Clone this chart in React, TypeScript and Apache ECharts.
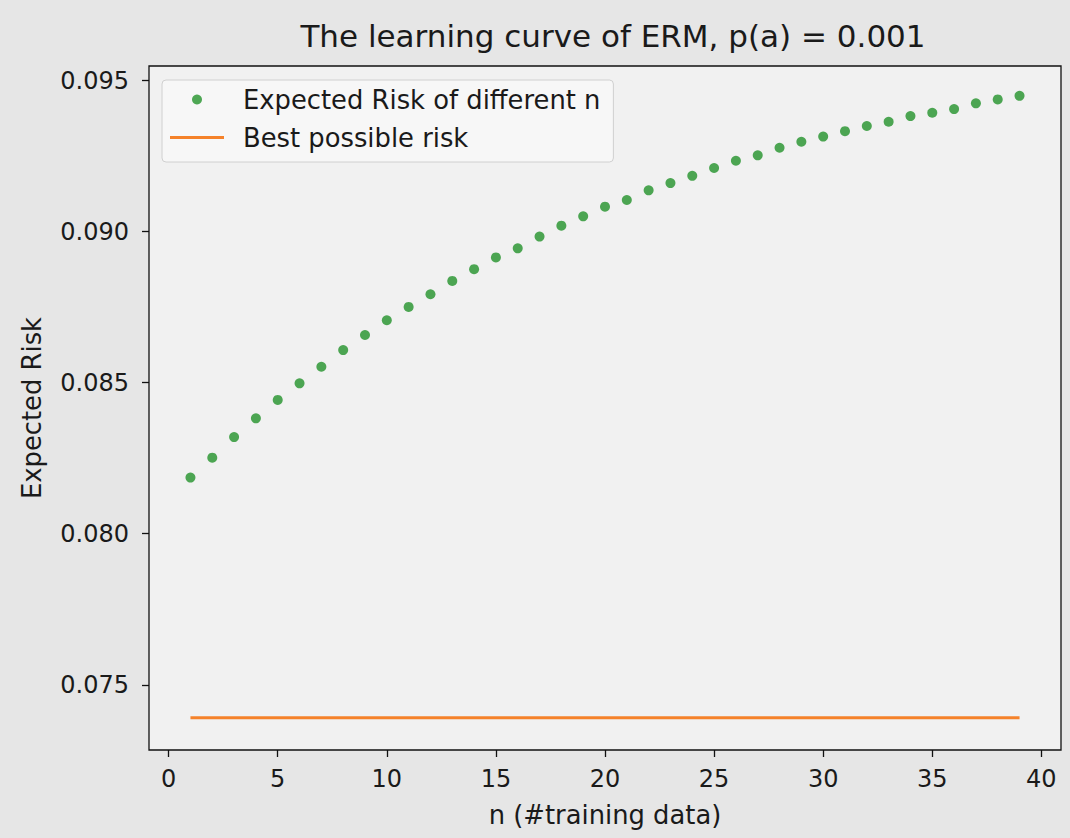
import React, { useEffect, useRef } from "react";
import * as echarts from "echarts";

const nValues = [1, 2, 3, 4, 5, 6, 7, 8, 9, 10, 11, 12, 13, 14, 15, 16, 17, 18, 19, 20, 21, 22, 23, 24, 25, 26, 27, 28, 29, 30, 31, 32, 33, 34, 35, 36, 37, 38, 39];
const expectedRisk = [0.08186, 0.08252, 0.0832, 0.08382, 0.08443, 0.08498, 0.08553, 0.08608, 0.08658, 0.08707, 0.08751, 0.08793, 0.08837, 0.08876, 0.08915, 0.08945, 0.08984, 0.0902, 0.09051, 0.09083, 0.09105, 0.09137, 0.09161, 0.09185, 0.09211, 0.09235, 0.09253, 0.09278, 0.09298, 0.09315, 0.09333, 0.0935, 0.09364, 0.09383, 0.09394, 0.09406, 0.09425, 0.09438, 0.0945];
const bestRiskN = [1, 39];
const bestRisk = [0.07391, 0.07391];
const xTicks = [0, 5, 10, 15, 20, 25, 30, 35, 40];
const yTicks = [0.075, 0.08, 0.085, 0.09, 0.095];

const FONT = "DejaVu Sans";

export default function App() {
  const ref = useRef<HTMLDivElement>(null);
  useEffect(() => {
    if (!ref.current) return;
    const chart = echarts.init(ref.current, undefined, { renderer: "svg" });
    chart.setOption({
      animation: false,
      backgroundColor: "#e6e6e6",
      textStyle: { fontFamily: FONT },
      title: {
        text: "The learning curve of ERM, p(a) = 0.001",
        left: 608,
        top: 15,
        textAlign: "center",
        textStyle: { fontFamily: FONT, fontSize: 31, fontWeight: "normal", color: "#1a1a1a" },
      },
      grid: {
        left: 149,
        top: 66,
        right: 9,
        bottom: 88,
        show: true,
        backgroundColor: "#f1f1f1",
        borderColor: "#111",
        borderWidth: 1.3,
      },
      legend: {
        orient: "vertical",
        left: 162,
        top: 80,
        padding: [5, 13, 10, 8],
        itemWidth: 54,
        itemHeight: 10,
        itemGap: 9,
        backgroundColor: "#f7f7f7",
        borderColor: "#d0d0d0",
        borderWidth: 1,
        borderRadius: 4,
        textStyle: { fontFamily: FONT, fontSize: 25.8, color: "#1a1a1a", lineHeight: 29, padding: [0, 0, 0, 14] },
        data: [
          { name: "Expected Risk of different n", icon: "circle" },
          { name: "Best possible risk", icon: "path://M0,0 L54,0 L54,3 L0,3 Z" },
        ],
      },
      xAxis: {
        type: "value",
        min: -0.9,
        max: 40.9,
        name: "n (#training data)",
        nameLocation: "middle",
        nameGap: 52,
        nameTextStyle: { fontFamily: FONT, fontSize: 25.8, color: "#1a1a1a" },
        axisLine: { show: false, onZero: false },
        splitLine: { show: false },
        axisTick: { show: true, length: 7, lineStyle: { color: "#111", width: 1.3 }, customValues: xTicks },
        axisLabel: { fontFamily: FONT, fontSize: 24, color: "#1a1a1a", margin: 17, customValues: xTicks, formatter: (v: number) => String(v) },
      },
      yAxis: {
        type: "value",
        min: 0.07284,
        max: 0.095487,
        name: "Expected Risk",
        nameLocation: "middle",
        nameGap: 104,
        nameTextStyle: { fontFamily: FONT, fontSize: 25.8, color: "#1a1a1a" },
        axisLine: { show: false, onZero: false },
        splitLine: { show: false },
        axisTick: { show: true, length: 7, lineStyle: { color: "#111", width: 1.3 }, customValues: yTicks },
        axisLabel: { fontFamily: FONT, fontSize: 24, color: "#1a1a1a", margin: 20, customValues: yTicks, formatter: (v: number) => v.toFixed(3) },
      },
      series: [
        {
          name: "Expected Risk of different n",
          type: "scatter",
          symbol: "circle",
          symbolSize: 10,
          itemStyle: { color: "#23922a" },
          data: nValues.map((n, i) => [n, expectedRisk[i]]),
        },
        {
          name: "Best possible risk",
          type: "line",
          symbol: "none",
          lineStyle: { color: "#f5822a", width: 3 },
          itemStyle: { color: "#f5822a" },
          data: bestRiskN.map((n, i) => [n, bestRisk[i]]),
        },
      ],
    });
    return () => chart.dispose();
  }, []);
  return <div ref={ref} style={{ position: "fixed", left: 0, top: 0, width: 1070, height: 838 }} />;
}
